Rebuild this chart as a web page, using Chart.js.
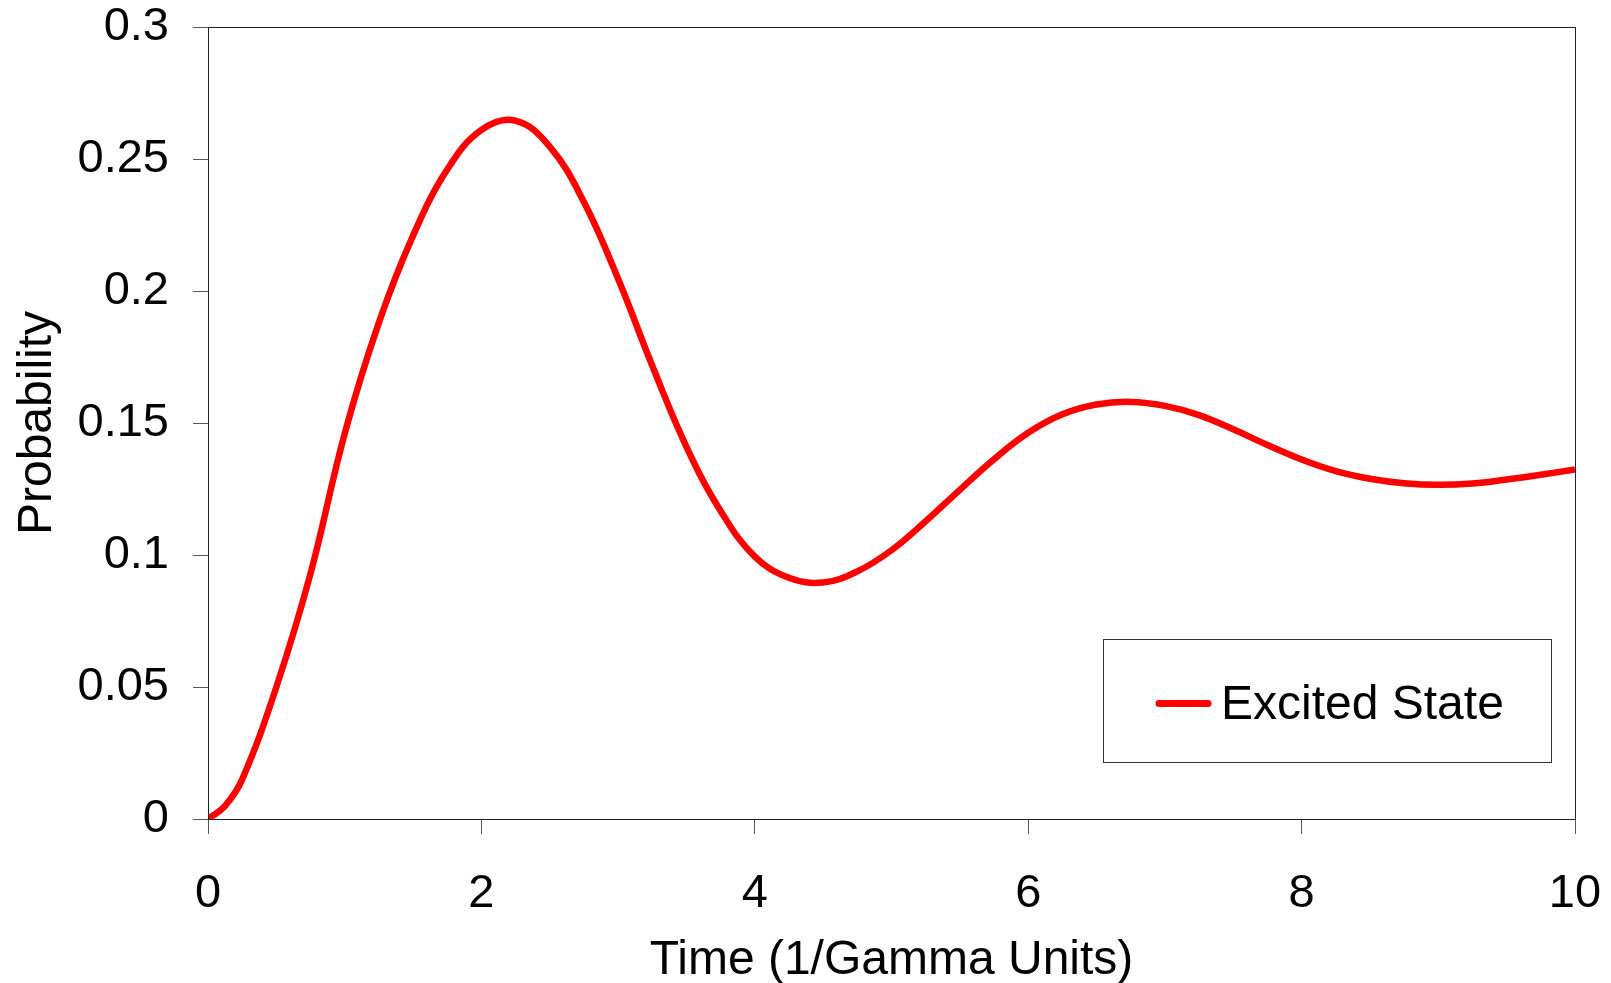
<!DOCTYPE html>
<html>
<head>
<meta charset="utf-8">
<title>Excited State Probability</title>
<script src="https://cdn.jsdelivr.net/npm/chart.js@4.4.1/dist/chart.umd.min.js"></script>
<style>
  html, body { margin: 0; padding: 0; background: #fff; }
  #wrap { width: 1611px; height: 983px; position: relative; }
</style>
</head>
<body>
<div id="wrap"><canvas id="probChart"></canvas></div>
<script>
// values
const times = [0, 0.125, 0.25, 0.5, 0.75, 1, 1.25, 1.5, 1.75, 2, 2.25, 2.5, 2.75, 3, 3.25, 3.5, 3.75, 4, 4.25, 4.5, 4.75,
  5, 5.25, 5.5, 5.75, 6, 6.25, 6.5, 6.75, 7, 7.25, 7.5, 7.75, 8, 8.25, 8.5, 8.75, 9, 9.25, 9.5, 9.75, 10];
const excitedState = [0, 0.005, 0.015, 0.05, 0.093, 0.146, 0.188, 0.221, 0.246, 0.261, 0.2645, 0.2547, 0.2337, 0.2046, 0.1717,
  0.141, 0.1167, 0.0994, 0.0914, 0.0896, 0.0938, 0.1018, 0.1128, 0.1247, 0.1363, 0.1463, 0.1533, 0.157, 0.158,
  0.1565, 0.153, 0.1476, 0.1417, 0.1362, 0.1318, 0.1289, 0.1272, 0.1266, 0.1271, 0.1286, 0.1304, 0.1324];
const seriesName = 'Excited State';
const xTitle = 'Time (1/Gamma Units)';
const yTitle = 'Probability';

const FONT = "'Liberation Sans', Arial, sans-serif";
const RED = '#ff0000';

// box around the plot area
const frame = {
  id: 'frame',
  afterDatasetsDraw(chart) {
    const { ctx, chartArea: a } = chart;
    ctx.save();
    ctx.strokeStyle = '#222';
    ctx.lineWidth = 1;
    ctx.strokeRect(Math.round(a.left) + 0.5, Math.round(a.top) + 0.5, Math.round(a.right - a.left), Math.round(a.bottom - a.top));
    ctx.restore();
  }
};

// legend sits inside the plot, bottom right, with a border
const boxLegend = {
  id: 'boxLegend',
  afterDraw(chart) {
    const { ctx, chartArea: a } = chart;
    const w = 448, h = 123;
    const x = Math.round(a.right - 24 - w);
    const y = Math.round(a.bottom - 57 - h);
    ctx.save();
    ctx.fillStyle = '#fff';
    ctx.fillRect(x, y, w, h);
    ctx.strokeStyle = '#333';
    ctx.lineWidth = 1;
    ctx.strokeRect(x + 0.5, y + 0.5, w, h);

    const ds = chart.data.datasets[0];
    ctx.strokeStyle = ds.borderColor;
    ctx.lineWidth = 7;
    ctx.lineCap = 'round';
    ctx.beginPath();
    ctx.moveTo(x + 56, y + h / 2 + 3);
    ctx.lineTo(x + 105, y + h / 2 + 3);
    ctx.stroke();

    ctx.fillStyle = '#000';
    ctx.font = '48px ' + FONT;
    ctx.textBaseline = 'middle';
    ctx.textAlign = 'left';
    ctx.fillText(ds.label, x + 118, y + h / 2 + 5);
    ctx.restore();
  }
};

new Chart(document.getElementById('probChart'), {
  type: 'line',
  data: {
    datasets: [{
      label: seriesName,
      data: times.map((t, i) => ({ x: t, y: excitedState[i] })),
      borderColor: RED,
      backgroundColor: RED,
      borderWidth: 6.5,
      pointRadius: 0,
      tension: 0.4,
      fill: false
    }]
  },
  options: {
    responsive: true,
    maintainAspectRatio: false,
    animation: false,
    layout: { padding: { top: 27, right: 36, left: 0, bottom: 0 } },
    plugins: {
      legend: { display: false },
      tooltip: { enabled: false }
    },
    scales: {
      x: {
        type: 'linear',
        min: 0,
        max: 10,
        afterFit: (s) => { s.height = 164; s.paddingLeft = 0; s.paddingRight = 0; },
        ticks: { stepSize: 2, color: '#000', padding: 32, font: { family: FONT, size: 47 } },
        grid: { drawOnChartArea: false, drawTicks: true, tickLength: 15, color: '#555' },
        border: { display: true, color: '#222', width: 1 },
        title: { display: true, text: xTitle, color: '#000', font: { family: FONT, size: 48 }, padding: { top: 0, bottom: -7 } }
      },
      y: {
        min: 0,
        max: 0.3,
        afterFit: (s) => { s.width = 208; s.paddingTop = 0; s.paddingBottom = 0; },
        ticks: {
          stepSize: 0.05,
          color: '#000',
          padding: 24,
          font: { family: FONT, size: 47 },
          callback: (v) => String(+v.toFixed(2))
        },
        grid: { drawOnChartArea: false, drawTicks: true, tickLength: 15, color: '#555' },
        border: { display: true, color: '#222', width: 1 },
        title: { display: true, text: yTitle, color: '#000', font: { family: FONT, size: 48 }, padding: { top: 9, bottom: 0 } }
      }
    }
  },
  plugins: [frame, boxLegend]
});
</script>
</body>
</html>
